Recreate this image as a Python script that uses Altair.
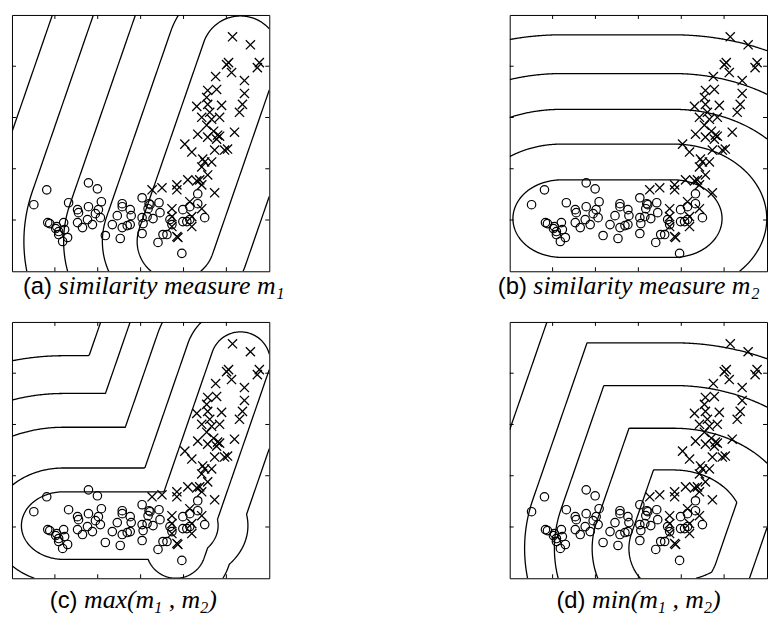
import numpy as np
import pandas as pd
import altair as alt

# ---------------- data (panel units: 0..259 wide, 0..258 high, y up) ----------------
PANEL_W, PANEL_H = 259, 258
X_TICKS = [43.2, 86.3, 129.5, 172.7, 215.8]
Y_TICKS = [51.6, 103.2, 154.8, 206.4]

CIRCLE_X = [22, 35, 36, 38, 44, 47, 47, 51, 52, 53, 56, 57, 66, 66, 71, 77, 86, 77, 76, 81,
            84, 87, 89, 90, 94, 101, 106, 109, 111, 111, 119, 120, 116, 111, 131, 138, 137, 136,
            132, 131, 142, 148, 149, 147, 156, 152, 159, 161, 172, 172, 176, 179, 179, 187, 187,
            194, 171, 67, 119, 131, 139, 45]
CIRCLE_Y = [67, 82, 49, 48, 43, 40, 37, 30, 49, 42, 34, 69, 62, 49, 44, 89, 83, 65, 52, 47,
            58, 62, 54, 70, 36, 47, 56, 33, 68, 65, 62, 56, 46, 44, 74, 68, 63, 55,
            48, 38, 53, 69, 59, 29, 37, 37, 52, 47, 62, 50, 50, 52, 65, 78, 68,
            54, 18, 59, 47, 54, 67, 45]

CROSS_X = [222, 240, 216, 221, 249, 247, 205, 234, 197, 206, 234, 196, 186, 211, 232, 197, 199,
           229, 191, 209, 201, 196, 187, 197, 207, 209, 224, 206, 174, 181, 204, 214, 217, 192,
           194, 201, 197, 189, 191, 204, 177, 186, 166, 166, 151, 141, 179, 161, 161, 191, 181,
           181, 161, 166, 167, 191, 218, 203]
CROSS_Y = [236, 228, 208, 200, 210, 205, 196, 192, 182, 183, 179, 175, 166, 167, 168, 168, 160,
           160, 155, 155, 153, 147, 138, 135, 137, 136, 140, 133, 128, 120, 122, 122, 123, 113,
           110, 110, 97, 92, 87, 79, 92, 91, 87, 82, 84, 82, 70, 63, 55, 63, 55,
           45, 45, 35, 34, 105, 210, 141]

# similarity m1: stretched distance to a diagonal segment; m2: to a horizontal segment
SEG_M1 = [(165, 30), (230, 218)]
STRETCH_M1 = 1.0
SEG_M2 = [(52, 53), (165, 53)]
STRETCH_M2 = 1.25

# contour radii (distance units) per panel
LEVELS_A_M1 = [39, 74, 113, 153, 192]
LEVELS_B_M2 = [39, 75, 110, 146, 185]
LEVELS_C_M1 = [30, 56, 88, 118, 146]
LEVELS_C_M2 = [34, 58, 99, 133, 171]
LEVELS_D_M1 = [45, 82, 120, 150, 195]
LEVELS_D_M2 = [56, 98, 141, 184, 230]

CAP_A = [("(a)", "sans"), (" similarity measure m", "serif"), ("1", "sub")]
CAP_B = [("(b)", "sans"), (" similarity measure m", "serif"), ("2", "sub")]
CAP_C = [("(c)", "sans"), (" max(m", "serif"), ("1", "sub"), (" , m", "serif"), ("2", "sub"), (")", "serif")]
CAP_D = [("(d)", "sans"), (" min(m", "serif"), ("1", "sub"), (" , m", "serif"), ("2", "sub"), (")", "serif")]

# ---------------- geometry ----------------
gx = np.linspace(0, PANEL_W, PANEL_W + 1)
gy = np.linspace(0, PANEL_H, PANEL_H + 1)
GX, GY = np.meshgrid(gx, gy)


def seg_dist(p0, p1, k):
    p0 = np.array(p0, float)
    p1 = np.array(p1, float)
    d = p1 - p0
    L = float(np.hypot(d[0], d[1]))
    u = d / L
    vx = GX - p0[0]
    vy = GY - p0[1]
    t = vx * u[0] + vy * u[1]
    perp = -vx * u[1] + vy * u[0]
    ex = np.where(t < 0, t, np.where(t > L, t - L, 0.0)) / k
    return np.hypot(ex, perp)


D1 = seg_dist(SEG_M1[0], SEG_M1[1], STRETCH_M1)
D2 = seg_dist(SEG_M2[0], SEG_M2[1], STRETCH_M2)


def contour_paths(F, level=1.0):
    above = F > level
    s = (above[:-1, :-1].astype(int) + above[:-1, 1:] + above[1:, :-1] + above[1:, 1:])
    cells = np.argwhere((s > 0) & (s < 4))

    def pt(key):
        kind, i, j = key
        if kind == "h":
            f0, f1 = F[i, j], F[i, j + 1]
            t = (level - f0) / (f1 - f0)
            return (gx[j] + t * (gx[j + 1] - gx[j]), gy[i])
        f0, f1 = F[i, j], F[i + 1, j]
        t = (level - f0) / (f1 - f0)
        return (gx[j], gy[i] + t * (gy[i + 1] - gy[i]))

    adj = {}

    def link(a, b):
        adj.setdefault(a, []).append(b)
        adj.setdefault(b, []).append(a)

    for i, j in cells:
        i = int(i)
        j = int(j)
        edges = []
        if above[i, j] != above[i, j + 1]:
            edges.append(("h", i, j))
        if above[i, j + 1] != above[i + 1, j + 1]:
            edges.append(("v", i, j + 1))
        if above[i + 1, j] != above[i + 1, j + 1]:
            edges.append(("h", i + 1, j))
        if above[i, j] != above[i + 1, j]:
            edges.append(("v", i, j))
        if len(edges) == 2:
            link(edges[0], edges[1])
        elif len(edges) == 4:
            centre = (F[i, j] + F[i, j + 1] + F[i + 1, j] + F[i + 1, j + 1]) / 4 > level
            if centre == above[i, j]:
                link(edges[0], edges[1])
                link(edges[2], edges[3])
            else:
                link(edges[0], edges[3])
                link(edges[1], edges[2])
    visited = set()
    paths = []
    starts = [k for k, v in adj.items() if len(v) == 1] + list(adj.keys())
    for s0 in starts:
        if s0 in visited:
            continue
        path = [s0]
        visited.add(s0)
        cur = s0
        while True:
            nxt = [n for n in adj[cur] if n not in visited]
            if not nxt:
                break
            cur = nxt[0]
            visited.add(cur)
            path.append(cur)
        if len(path) > 2 and s0 in adj[cur]:
            path.append(s0)
        paths.append([pt(k) for k in path])
    return paths


def paths_frame(fields):
    rows = []
    cid = 0
    for F in fields:
        for p in contour_paths(F, 1.0):
            for k, (x, y) in enumerate(p):
                rows.append({"x": x, "y": y, "cid": cid, "k": k})
            cid += 1
    return pd.DataFrame(rows)


paths_a = paths_frame([D1 / r for r in LEVELS_A_M1])
paths_b = paths_frame([D2 / r for r in LEVELS_B_M2])
paths_c = paths_frame([np.minimum(D1 / a, D2 / b) for a, b in zip(LEVELS_C_M1, LEVELS_C_M2)])
paths_d = paths_frame([np.maximum(D1 / a, D2 / b) for a, b in zip(LEVELS_D_M1, LEVELS_D_M2)])

circ_df = pd.DataFrame({"x": CIRCLE_X, "y": CIRCLE_Y})
cross_df = pd.DataFrame({"x": CROSS_X, "y": CROSS_Y})

SERIF_I = {" ": 250, "(": 333, ")": 333, ",": 250, "a": 500, "c": 444, "d": 500, "e": 444,
           "i": 278, "l": 278, "m": 722, "n": 500, "r": 389, "s": 389, "t": 278, "u": 500,
           "x": 444, "y": 444, "1": 500, "2": 500}
SANS = {"(": 333, ")": 333, "a": 556, "b": 556, "c": 500, "d": 556, " ": 278}
SANS_SIZE, SERIF_SIZE, SUB_SIZE = 24, 26, 16
SERIF_FONT = "Liberation Serif"
SANS_FONT = "Liberation Sans"

xs = alt.Scale(domain=[0, PANEL_W], nice=False, zero=False)
ys = alt.Scale(domain=[0, PANEL_H], nice=False, zero=False)


def caption_layers(pieces, x0, y0):
    layers = []
    x = x0
    for text, kind in pieces:
        if kind == "sans":
            size, font, style, dy, table = SANS_SIZE, SANS_FONT, "normal", 0, SANS
        elif kind == "serif":
            size, font, style, dy, table = SERIF_SIZE, SERIF_FONT, "italic", 0, SERIF_I
        else:
            size, font, style, dy, table = SUB_SIZE, SERIF_FONT, "italic", 5, SERIF_I
        body = text.strip(" ")
        lead = len(text) - len(text.lstrip(" "))
        trail = len(text) - len(text.rstrip(" "))
        x += lead * SERIF_I[" "] * SERIF_SIZE / 1000
        layers.append(
            alt.Chart(pd.DataFrame({"t": [body]}))
            .mark_text(font=font, fontSize=size, fontStyle=style, align="left",
                       baseline="alphabetic", color="black")
            .encode(x=alt.value(x), y=alt.value(y0 + dy), text="t:N")
        )
        x += sum(table.get(c, 500) for c in body) * size / 1000
        x += trail * SERIF_I[" "] * SERIF_SIZE / 1000
    return layers


def panel(paths_df, pieces, cap_x, cap_y):
    lines = alt.Chart(paths_df).mark_line(color="black", strokeWidth=1.3, clip=True).encode(
        x=alt.X("x:Q", scale=xs, axis=None),
        y=alt.Y("y:Q", scale=ys, axis=None),
        detail="cid:N", order="k:Q")
    tdx = pd.DataFrame({"v": X_TICKS})
    tdy = pd.DataFrame({"v": Y_TICKS})
    tick_b = alt.Chart(tdx).mark_rule(color="black", strokeWidth=1).encode(
        x=alt.X("v:Q", scale=xs, axis=None), y=alt.value(PANEL_H), y2=alt.value(PANEL_H - 4))
    tick_t = alt.Chart(tdx).mark_rule(color="black", strokeWidth=1).encode(
        x=alt.X("v:Q", scale=xs, axis=None), y=alt.value(0), y2=alt.value(4))
    tick_l = alt.Chart(tdy).mark_rule(color="black", strokeWidth=1).encode(
        y=alt.Y("v:Q", scale=ys, axis=None), x=alt.value(0), x2=alt.value(4))
    tick_r = alt.Chart(tdy).mark_rule(color="black", strokeWidth=1).encode(
        y=alt.Y("v:Q", scale=ys, axis=None), x=alt.value(PANEL_W), x2=alt.value(PANEL_W - 4))
    circ = alt.Chart(circ_df).mark_point(shape="circle", filled=False, size=72, color="black",
                                         strokeWidth=1.2, opacity=1).encode(
        x=alt.X("x:Q", scale=xs, axis=None), y=alt.Y("y:Q", scale=ys, axis=None))
    cross = alt.Chart(cross_df).mark_point(shape="M-1,-1L1,1M-1,1L1,-1", filled=False, size=85,
                                           color="black", strokeWidth=1.3, opacity=1).encode(
        x=alt.X("x:Q", scale=xs, axis=None), y=alt.Y("y:Q", scale=ys, axis=None))
    layers = [lines, tick_b, tick_t, tick_l, tick_r, circ, cross] + caption_layers(pieces, cap_x, cap_y)
    return alt.layer(*layers).properties(width=PANEL_W, height=PANEL_H)


pa = panel(paths_a, CAP_A, 11, 281)
pb = panel(paths_b, CAP_B, -12, 281)
pc = panel(paths_c, CAP_C, 38, 288)
pd_ = panel(paths_d, CAP_D, 47, 288)

chart = alt.concat(pa, pb, pc, pd_, columns=2, spacing={"row": 51, "column": 242},
                   bounds="flush").properties(
    padding={"left": 3, "top": 4, "right": 0, "bottom": 0}
).configure_view(stroke="black", strokeWidth=1)

chart.save("out.html", embed_options={"renderer": "svg", "actions": False})
